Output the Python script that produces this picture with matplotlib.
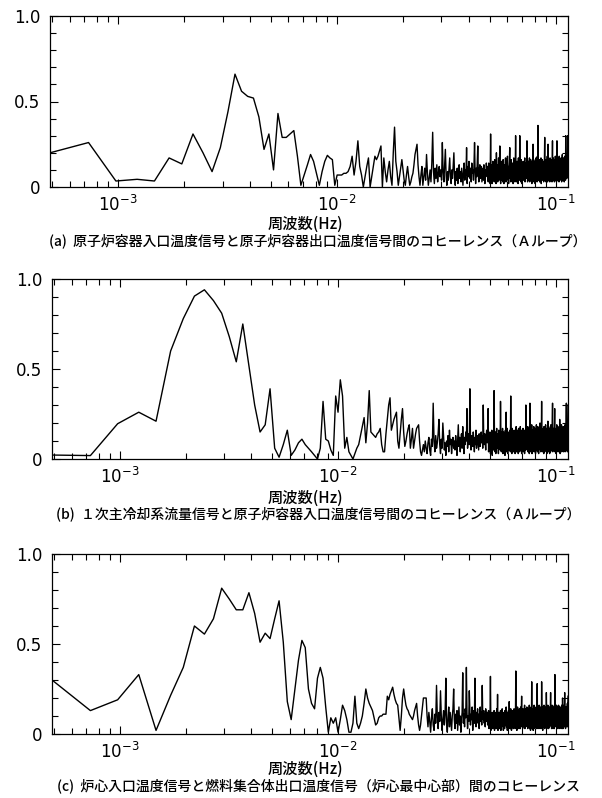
import numpy as np
import matplotlib
matplotlib.use('Agg')
import matplotlib.pyplot as plt

DF = 1.0 / 4096  # frequency resolution (Hz); points at k*DF, k = 2 ... 465

# ---------------- panel (a) ----------------
a_low = [.20, .26, .035, .045, .035, .17, .135, .31, .20, .09, .23, .44, .66, .56, .53,
         .52, .41, .22, .31, .10, .43, .29, .29, .31, .33, .18, .01, .07, .13, .19,
         .15, .08, .01, .09, .15, .185, .17, .16, .01]
a_mid = [7, 7, 7, 8, 8, 9, 12, 18, 7, 15,
         27, 12, 7, 0, 6, 12, 17, 0, 6, 12,
         18, 16, 18, 21, 24, 0, 17, 9, 3, 10,
         15, 6, 1, 20, 35, 15, 9, 1, 6, 11,
         16, 10, 4, 1, 7, 12, 6, 1, 3, 6,
         8, 13, 19, 22, 25, 13, 6, 1, 7, 12]
a_hi1 = [1, 6, 11, 4, 19, 8, 1, 5, 10, 3,
         14, 32, 9, 2, 11, 5, 13, 3, 8, 12,
         6, 10, 4, 26, 9, 3, 12, 22, 7, 1,
         9, 4, 11, 17, 6, 2, 10, 5, 12, 20,
         7, 1, 9, 4, 11, 2, 7, 13, 5, 9,
         3, 11, 6, 1, 9, 14, 4, 10, 7, 23,
         2, 12, 6, 15, 9, 5, 11, 3, 14, 8,
         10, 4, 13, 26, 9, 2, 11, 6, 14, 24,
         8, 3, 10, 13, 5, 9, 12, 3, 7, 11,
         4, 13, 8, 2, 10, 6, 14, 9, 12, 5]
a_hi2 = [3, 14, 5, 11, 2, 31, 6, 13, 2, 9,
         15, 4, 12, 3, 16, 6, 11, 2, 20, 5,
         13, 3, 10, 17, 4, 12, 24, 6, 2, 11,
         15, 4, 12, 3, 16, 7, 2, 13, 5, 12,
         17, 3, 11, 6, 14, 18, 4, 12, 2, 10,
         15, 23, 5, 12, 3, 16, 6, 11, 4, 14,
         2, 12, 17, 5, 14, 3, 11, 30, 6, 13,
         3, 15, 7, 12, 2, 17, 5, 12, 4, 30,
         6, 14, 3, 16, 7, 2, 14, 5, 12, 15,
         4, 13, 6, 12, 17, 3, 14, 6, 11, 13]
a_hi3 = [5, 27, 12, 3, 13, 6, 15, 4, 8, 17,
         3, 14, 7, 16, 4, 10, 13, 2, 15, 6,
         12, 25, 5, 16, 3, 13, 6, 15, 2, 14,
         7, 17, 4, 12, 15, 3, 18, 6, 36, 12,
         4, 14, 6, 16, 3, 10, 15, 5, 13, 17,
         2, 14, 6, 12, 16, 4, 13, 7, 15, 3,
         14, 6, 17, 29, 4, 13, 8, 15, 3, 16,
         5, 12, 14, 18, 3, 13, 25, 6, 15, 4,
         16, 7, 13, 3, 17, 12, 5, 10, 15, 4,
         8, 16, 3, 14, 27, 5, 13, 17, 4, 14]
a_hi4 = [6, 16, 3, 13, 15, 5, 18, 4, 14, 7,
         16, 3, 11, 27, 6, 14, 4, 15, 17, 5,
         10, 15, 3, 18, 6, 14, 16, 4, 13, 7,
         12, 17, 5, 14, 3, 16, 13, 19, 6, 15,
         4, 14, 17, 5, 16, 13, 3, 15, 18, 6,
         14, 16, 4, 30, 13, 7, 12, 18, 5, 11,
         16, 6, 20, 30, 21]

# ---------------- panel (b) ----------------
b_low = [.022, .019, .196, .26, .21, .60, .78, .905, .94, .88, .81, .68, .54, .75, .52,
         .30, .15, .19, .39]
b_mid = [6, 1, 8, 16, 2, 5, 9, 11, 8, 6,
         4, 2, 0, 6, 32, 11, 10, 5, 2, 35,
         26, 44, 35, 6, 12, 4, 2, 0, 3, 6,
         8, 13, 18, 23, 9, 20, 38, 15, 14, 13,
         12, 14, 15, 17, 8, 4, 4, 14, 22, 30,
         34, 16, 19, 22, 24, 26, 10, 6, 14, 22,
         28, 15, 7, 10, 14, 17, 19, 6, 11, 17,
         6, 10, 14, 17, 18, 19, 10, 4, 2, 5]
b_hi1 = [8, 4, 10, 6, 3, 9, 12, 5, 2, 11,
         7, 31, 10, 4, 13, 6, 9, 14, 22, 8,
         3, 11, 6, 20, 12, 5, 9, 2, 10, 7,
         13, 4, 16, 8, 11, 3, 9, 12, 6, 10,
         5, 13, 8, 2, 11, 19, 7, 12, 4, 10,
         14, 6, 18, 9, 3, 12, 8, 15, 10, 28,
         6, 11, 14, 8, 39, 12, 5, 13, 9, 7,
         15, 10, 4, 12, 8, 16, 6, 11, 13, 9,
         5, 14, 10, 7, 12, 15, 9, 13, 6, 30,
         11, 8, 14, 10, 5, 13, 16, 9, 12, 28]
b_hi2 = [4, 12, 7, 15, 3, 13, 6, 16, 2, 14,
         8, 5, 38, 11, 4, 15, 3, 13, 17, 6,
         10, 14, 3, 16, 7, 13, 5, 32, 12, 4,
         15, 6, 17, 3, 12, 15, 5, 13, 2, 16,
         6, 26, 4, 14, 17, 3, 13, 7, 15, 5,
         12, 16, 4, 35, 8, 14, 3, 17, 6, 15,
         4, 13, 16, 5, 14, 3, 15, 7, 18, 4,
         13, 16, 6, 14, 3, 17, 8, 15, 4, 13,
         18, 5, 14, 16, 3, 12, 15, 6, 17, 4,
         14, 7, 16, 3, 15, 13, 5, 30, 14, 6]
b_hi3 = [16, 5, 14, 18, 4, 15, 7, 17, 3, 14,
         31, 6, 16, 4, 15, 8, 19, 3, 14, 16,
         5, 15, 7, 18, 4, 16, 14, 6, 17, 3,
         15, 8, 19, 5, 16, 14, 4, 18, 7, 15,
         3, 17, 14, 6, 16, 20, 5, 15, 4, 18,
         14, 32, 6, 16, 4, 15, 7, 17, 14, 3,
         18, 6, 15, 4, 16, 14, 19, 5, 15, 8,
         17, 3, 14, 16, 6, 21, 4, 15, 18, 5,
         14, 16, 3, 17, 7, 15, 4, 19, 14, 6,
         16, 5, 13, 18, 31, 4, 11, 16, 6, 17]
b_hi4 = [5, 15, 18, 28, 4, 16, 7, 14, 17, 3,
         15, 6, 19, 4, 16, 14, 5, 18, 15, 7,
         17, 4, 14, 16, 6, 22, 15, 3, 18, 8,
         14, 16, 5, 19, 4, 15, 7, 17, 14, 6,
         13, 18, 4, 15, 17, 6, 14, 16, 5, 19,
         4, 15, 14, 17, 6, 16, 31, 5, 15, 7,
         18, 4, 16, 20, 30]

# ---------------- panel (c) ----------------
c_low = [.30, .13, .19, .33, .02, .215, .37, .60, .555, .64, .81, .75, .69, .69, .785,
         .67, .51, .56, .53, .64, .74, .51, .18, .08, .25, .41, .52, .48, .25, .17,
         .14, .31, .37, .31, .15, .01, .09, .06, .09]
c_mid = [1, 8, 16, 13, 8, 1, 1, 6, 21, 6,
         3, 6, 10, 17, 25, 20, 17, 15, 13, 9,
         5, 6, 9, 10, 10, 11, 11, 11, 21, 19,
         22, 24, 26, 22, 19, 17, 16, 9, 2, 10,
         20, 25, 20, 16, 14, 13, 11, 10, 9, 8,
         10, 13, 15, 17, 10, 5, 2, 5, 10, 15,
         20, 20, 20, 20, 10]
c_hi1 = [4, 12, 7, 1, 9,
         14, 5, 2, 11, 6, 27, 9, 3, 12, 7,
         24, 10, 2, 8, 13, 5, 11, 31, 6, 1,
         9, 15, 4, 12, 7, 2, 10, 14, 25, 8,
         3, 11, 6, 13, 2, 9, 15, 5, 10, 1,
         8, 12, 34, 6, 11, 4, 14, 9, 37, 12,
         3, 10, 7, 24, 13, 5, 11, 8, 15, 2,
         9, 13, 6, 31, 10, 4, 12, 8, 14, 6,
         11, 3, 9, 15, 7, 12, 5, 27, 10, 8,
         13, 6, 11, 4, 14, 9, 7, 12, 5, 10]
c_hi2 = [13, 3, 11, 6, 32, 2, 10, 5, 12, 3,
         11, 4, 13, 2, 10, 6, 12, 3, 14, 7,
         22, 2, 9, 12, 3, 11, 6, 13, 2, 9,
         4, 14, 7, 12, 2, 9, 11, 3, 13, 5,
         10, 15, 4, 12, 2, 9, 11, 13, 3, 18,
         5, 12, 3, 14, 7, 2, 11, 13, 4, 12,
         3, 10, 14, 5, 12, 3, 11, 35, 6, 13,
         2, 12, 15, 4, 11, 13, 3, 14, 6, 12,
         3, 15, 5, 13, 21, 4, 12, 3, 14, 11,
         13, 4, 12, 16, 3, 11, 14, 5, 12, 10]
c_hi3 = [15, 4, 12, 3, 14, 11, 6, 13, 16, 3,
         12, 14, 2, 11, 15, 5, 29, 3, 12, 8,
         14, 2, 13, 5, 16, 12, 3, 15, 7, 13,
         4, 14, 9, 3, 15, 28, 5, 13, 3, 12,
         14, 4, 16, 6, 13, 3, 15, 12, 5, 14,
         3, 29, 13, 6, 15, 2, 12, 14, 4, 13,
         16, 5, 13, 3, 15, 12, 4, 14, 6, 23,
         13, 3, 15, 12, 4, 16, 5, 14, 3, 13,
         12, 15, 4, 13, 6, 14, 23, 5, 9, 15,
         3, 13, 16, 5, 14, 12, 3, 15, 13, 4]
c_hi4 = [14, 3, 16, 12, 33, 5, 9, 15, 4, 14,
         12, 16, 3, 13, 15, 5, 14, 3, 13, 12,
         16, 4, 14, 6, 15, 11, 3, 9, 14, 5,
         15, 4, 13, 10, 16, 3, 14, 5, 20, 13,
         3, 15, 12, 4, 11, 16, 5, 9, 23, 4,
         14, 11, 3, 13, 15, 4, 12, 14, 5, 15,
         13, 17, 4, 16, 21]

captions = [
    "(a)  原子炉容器入口温度信号と原子炉容器出口温度信号間のコヒーレンス（Ａループ）",
    "(b)  １次主冷却系流量信号と原子炉容器入口温度信号間のコヒーレンス（Ａループ）",
    "(c)  炉心入口温度信号と燃料集合体出口温度信号（炉心最中心部）間のコヒーレンス",
]
xlabel_text = "周波数(Hz)"
xtick_vals = [1e-3, 1e-2, 1e-1]
xtick_labels = [r"$\mathregular{10^{-3}}$", r"$\mathregular{10^{-2}}$", r"$\mathregular{10^{-1}}$"]
ytick_vals = [0, 0.5, 1.0]
ytick_labels = ["0", "0.5", "1.0"]


def series(low, *rest):
    v = list(low) + [x / 100.0 for r in rest for x in r]
    f = np.arange(2, 2 + len(v)) * DF
    return f, np.array(v)


panels = [series(a_low, a_mid, a_hi1, a_hi2, a_hi3, a_hi4),
          series(b_low, b_mid, b_hi1, b_hi2, b_hi3, b_hi4),
          series(c_low, c_mid, c_hi1, c_hi2, c_hi3, c_hi4)]

W, H = 602, 798
plt.rcParams['font.family'] = ['DejaVu Sans']
JP = ['Noto Sans CJK JP', 'DejaVu Sans']

fig = plt.figure(figsize=(W / 100, H / 100), dpi=100)
fig.patch.set_facecolor('white')

# (left, top, right, bottom) in pixels; xlabel y, caption y
boxes = [(50, 16, 568, 187, 224, 241),
         (52, 279, 568, 459, 498, 514),
         (52, 554, 568, 734, 769, 786)]

minor_x = [m * 10.0 ** e for e in (-4, -3, -2, -1) for m in range(2, 10)]
minor_y = [i / 10 for i in range(11)]

for (f, v), (l, t, r, b, yl, yc), cap in zip(panels, boxes, captions):
    ax = fig.add_axes([l / W, 1 - b / H, (r - l) / W, (b - t) / H])
    ax.plot(f, v, color='black', lw=1.0)
    ax.set_xscale('log')
    ax.set_ylim(0, 1.0)
    ax.set_xticks(xtick_vals)
    ax.set_xticklabels(xtick_labels, fontsize=12)
    ax.set_xticks(minor_x, minor=True)
    ax.set_xticklabels([], minor=True)
    ax.set_yticks(ytick_vals)
    ax.set_yticklabels(ytick_labels, fontsize=12)
    ax.set_yticks(minor_y, minor=True)
    ax.set_xlim(f.min(), f.max())
    ax.tick_params(which='both', direction='in', top=True, right=True, width=0.8)
    ax.tick_params(which='major', length=6)
    ax.tick_params(which='minor', length=4)
    ax.tick_params(axis='x', which='major', pad=6)
    ax.tick_params(axis='y', which='major', pad=7)
    for s in ax.spines.values():
        s.set_linewidth(0.9)
    fig.text(305 / W, 1 - yl / H, xlabel_text, ha='center', va='center',
             fontsize=11, family=JP, weight='medium')
    fig.text(318 / W, 1 - yc / H, cap, ha='center', va='center',
             fontsize=10, family=JP, weight='medium')

fig.savefig('out.png', dpi=100, facecolor='white')
